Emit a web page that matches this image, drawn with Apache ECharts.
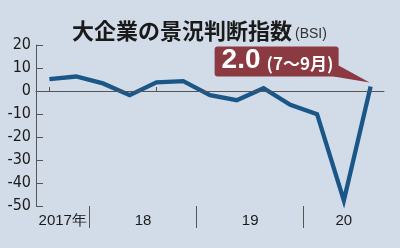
<!DOCTYPE html>
<html><head><meta charset="utf-8">
<script src="https://cdn.jsdelivr.net/npm/echarts@6/dist/echarts.min.js"></script>
<style>html,body{margin:0;padding:0;background:#D2DCE8;}#c{width:400px;height:248px;}</style>
</head><body><div id="c"></div>
<script>
// quarters (2017 Jul-Sep .. 2020 Jul-Sep)
const quarterYears = [2017, 2017, 2018, 2018, 2018, 2018, 2019, 2019, 2019, 2019, 2020, 2020, 2020];
const quarterMonths = ['7～9月', '10～12月', '1～3月', '4～6月', '7～9月', '10～12月', '1～3月', '4～6月', '7～9月', '10～12月', '1～3月', '4～6月', '7～9月'];
const bsiValues = [5.2, 6.3, 3.3, -1.8, 3.8, 4.3, -1.8, -4.0, 1.2, -6.0, -10.1, -47.6, 2.0];
const years = [2017, 2018, 2019, 2020];
const yearLabels = ['2017年', '18', '19', '20'];
const yTicks = [-50, -40, -30, -20, -10, 0, 10, 20];

const categories = quarterYears.map((y, i) => y + ' ' + quarterMonths[i]);

// half-step axis for year labels and year separators
const halfData = new Array(categories.length * 2 + 1).fill('');
const sepIdx = new Set();
years.forEach((yr, j) => {
  const first = quarterYears.indexOf(yr);
  const last = quarterYears.lastIndexOf(yr);
  halfData[first + last + 1] = yearLabels[j];
  if (j > 0) sepIdx.add(2 * first);
});

const narrow = '"DejaVu Sans Condensed", "Liberation Sans", sans-serif';
const axisColor = '#555';
const chart = echarts.init(document.getElementById('c'), null, {renderer: 'canvas'});
chart.setOption({
  backgroundColor: '#D2DCE8',
  animation: false,
  title: {
    text: '{a|大企業の景況判断指数}{b|(BSI)}',
    left: 67, top: 11,
    textStyle: {
      rich: {
        a: {fontFamily: '"Noto Sans CJK JP"', fontWeight: 'bold', fontSize: 22, color: '#1a1a1a', lineHeight: 26, verticalAlign: 'bottom'},
        b: {fontFamily: '"Liberation Sans"', fontWeight: 'normal', fontSize: 14, color: '#333', lineHeight: 22, verticalAlign: 'bottom', padding: [0, 0, 1, 3]}
      }
    }
  },
  grid: {left: 36, right: 16, top: 45, bottom: 42},
  xAxis: [{
    type: 'category', data: categories, boundaryGap: true, position: 'bottom',
    axisLine: {show: true, lineStyle: {color: axisColor, width: 1}},
    axisTick: {show: true, alignWithLabel: true, inside: true, length: 4, lineStyle: {color: axisColor}},
    axisLabel: {show: false}, splitLine: {show: false}
  }, {
    type: 'category', data: halfData, boundaryGap: false, position: 'bottom',
    axisLine: {show: false},
    axisTick: {show: true, inside: false, length: 22, interval: (i) => sepIdx.has(i), lineStyle: {color: axisColor}},
    axisLabel: {show: true, interval: 0, margin: 7, fontFamily: '"Liberation Sans", sans-serif', fontSize: 15, color: '#1a1a1a'},
    splitLine: {show: false}
  }],
  yAxis: {
    type: 'value', min: yTicks[0], max: yTicks[yTicks.length - 1], interval: 10,
    axisLine: {show: true, lineStyle: {color: axisColor, width: 1}},
    axisTick: {show: true, inside: true, length: 7, lineStyle: {color: axisColor}},
    axisLabel: {margin: 5, fontFamily: narrow, fontSize: 16, color: '#1a1a1a'},
    splitLine: {show: false}
  },
  series: [{
    type: 'line', data: bsiValues, xAxisIndex: 0, yAxisIndex: 0,
    symbol: 'none', silent: true,
    lineStyle: {color: '#1A5788', width: 4.3, join: 'miter', cap: 'butt'},
    markLine: {
      silent: true, symbol: 'none', label: {show: false},
      lineStyle: {color: axisColor, width: 1, type: 'solid'},
      data: [{yAxis: 0}]
    },
    z: 3
  }]
});

// annotation anchored at the last data point
const li = bsiValues.length - 1;
const p = chart.convertToPixel({xAxisIndex: 0, yAxisIndex: 0}, [categories[li], bsiValues[li]]);
const boxColor = '#8C3A42';
chart.setOption({
  graphic: [{
    type: 'group', x: p[0], y: p[1], z: 10,
    children: [
      {type: 'polygon', shape: {points: [[-32, -21], [-37, -10], [-1, -4]]}, style: {fill: boxColor}},
      {type: 'rect', shape: {x: -156, y: -40, width: 124, height: 30, r: 3}, style: {fill: boxColor}},
      {type: 'text', x: -149, y: -26,
        style: {text: bsiValues[li].toFixed(1), verticalAlign: 'middle', fill: '#fff',
          font: 'bold 28px "Liberation Sans"'}},
      {type: 'text', x: -104, y: -23,
        style: {text: '(' + quarterMonths[li] + ')', verticalAlign: 'middle', fill: '#fff',
          font: 'bold 17px "Noto Sans CJK JP"'}}
    ]
  }]
});
</script></body></html>
